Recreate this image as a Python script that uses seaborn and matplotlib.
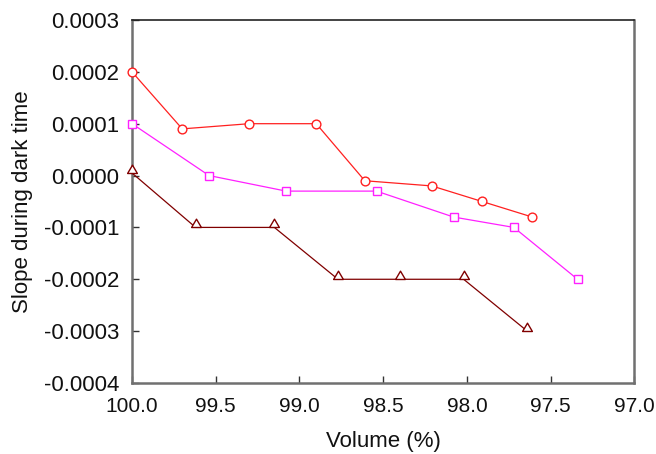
import numpy as np
import pandas as pd
import seaborn as sns
import matplotlib
matplotlib.use("Agg")
import matplotlib.pyplot as plt
from matplotlib.path import Path
from matplotlib.ticker import FormatStrFormatter

# Series values
vol_circle = [100.0, 99.70, 99.30, 98.90, 98.61, 98.21, 97.91, 97.61]
slope_circle = [0.00020, 0.00009, 0.00010, 0.00010, -0.00001, -0.00002, -0.00005, -0.00008]

vol_square = [100.0, 99.54, 99.08, 98.54, 98.08, 97.72, 97.34]
slope_square = [0.00010, 0.00000, -0.00003, -0.00003, -0.00008, -0.00010, -0.00020]

vol_triangle = [100.0, 99.62, 99.15, 98.77, 98.40, 98.02, 97.64]
slope_triangle = [0.000005, -0.00010, -0.00010, -0.00020, -0.00020, -0.00020, -0.00030]

x_ticks = [100.0, 99.5, 99.0, 98.5, 98.0, 97.5, 97.0]
y_ticks = [0.0003, 0.0002, 0.0001, 0.0, -0.0001, -0.0002, -0.0003, -0.0004]

sns.set_theme(style="white")
plt.rcParams["font.family"] = ["Liberation Sans", "DejaVu Sans"]
plt.rcParams["axes.unicode_minus"] = False

fig = plt.figure(figsize=(6.56, 4.54), dpi=100)
ax = fig.add_axes([0.2012, 0.1564, 0.7660, 0.7996])

# triangle sitting with its base on the data point
tri = Path([(-1.0, 0.0), (1.0, 0.0), (0.0, 1.7), (-1.0, 0.0)],
           [Path.MOVETO, Path.LINETO, Path.LINETO, Path.CLOSEPOLY])

series = [
    (vol_circle, slope_circle, "#ff2020", "o", 6.3),
    (vol_square, slope_square, "#ff20ff", "s", 6.3),
    (vol_triangle, slope_triangle, "#800000", tri, 12.0),
]
for xs, ys, col, mk, ms in series:
    df = pd.DataFrame({"Volume": xs, "Slope": ys})
    sns.lineplot(data=df, x="Volume", y="Slope", ax=ax, sort=False,
                 color=col, linewidth=0.9, marker=mk, markersize=ms,
                 markerfacecolor="white", markeredgecolor=col,
                 markeredgewidth=1.0, clip_on=False, zorder=3)

ax.set_xlim(100.0, 97.0)
ax.set_ylim(-0.0004, 0.0003)
ax.set_xticks(x_ticks)
ax.set_yticks(y_ticks)
ax.xaxis.set_major_formatter(FormatStrFormatter("%.1f"))
ax.yaxis.set_major_formatter(FormatStrFormatter("%.4f"))

ax.tick_params(axis="both", direction="in", length=5, width=1,
               color="#333333", labelcolor="#111111",
               bottom=True, left=True, top=False, right=False)
ax.tick_params(axis="x", pad=10, labelsize=15)
ax.tick_params(axis="y", pad=9, labelsize=16)

for side in ["left", "bottom", "right"]:
    ax.spines[side].set_color("#707070")
    ax.spines[side].set_linewidth(1.8)
ax.spines["top"].set_color("#222222")
ax.spines["top"].set_linewidth(1.2)

ax.set_xlabel("Volume (%)", fontsize=16, color="#111111", labelpad=11)
ax.set_ylabel("Slope during dark time", fontsize=16, color="#111111", labelpad=8)

fig.savefig("out.png", dpi=100)
